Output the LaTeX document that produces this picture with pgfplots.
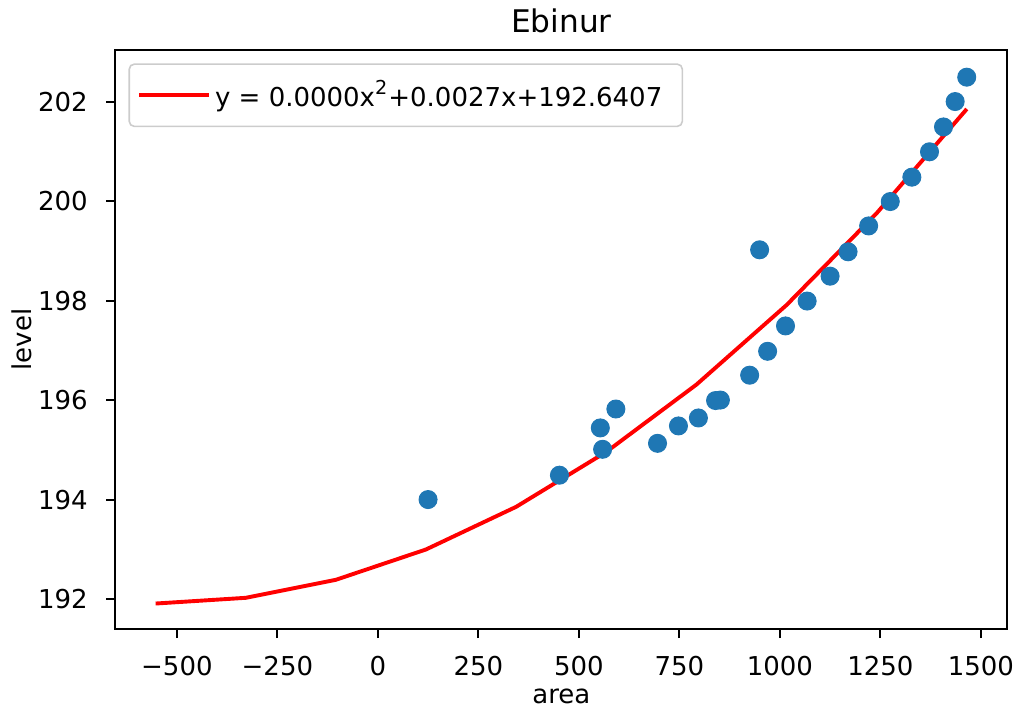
\documentclass[border=0pt]{standalone}
\usepackage{fontspec}
\setmainfont{DejaVu Sans}
\usepackage{pgfplots}
\usepackage{pgfplotstable}
\pgfplotsset{compat=1.18}
\definecolor{mplblue}{HTML}{1F77B4}
\pgfplotstableread{
x y
124.8 194.00
451.6 194.49
553.3 195.44
559.0 195.01
592.0 195.82
695.6 195.13
747.7 195.48
797.3 195.64
840.0 195.99
852.0 196.00
924.8 196.50
949.6 199.02
969.5 196.98
1014.0 197.49
1067.8 197.99
1124.9 198.49
1169.6 198.98
1220.8 199.50
1274.6 199.99
1328.3 200.48
1372.2 200.99
1407.0 201.49
1436.0 202.00
1464.8 202.49
}\points
\pgfplotstableread{
x y
-553.0 191.910
-328.8 192.025
-104.6 192.387
119.7 192.997
343.9 193.854
568.1 194.958
792.3 196.310
1016.6 197.910
1240.8 199.756
1465.0 201.850
}\fit
\begin{document}
\fontsize{13pt}{15.6pt}\selectfont
\begin{tikzpicture}
\path[use as bounding box] (-57.7pt,-42.55pt) rectangle (452.3pt,314.45pt);
\begin{axis}[
  at={(0pt,0pt)}, anchor=south west,
  scale only axis, width=446pt, height=289.3pt,
  xmin=-653, xmax=1566, ymin=191.40, ymax=203.03,
  axis line style={line width=1.04pt},
  tick align=outside, major tick length=4.55pt,
  every tick/.style={black, line width=1.04pt},
  xtick pos=bottom, ytick pos=left,
  xtick={-500,-250,0,250,500,750,1000,1250,1500},
  xticklabels={−500,−250,0,250,500,750,1000,1250,1500},
  ytick={192,194,196,198,200,202},
  yticklabels={192,194,196,198,200,202},
  xticklabel style={inner sep=0pt, anchor=north, yshift=-9.1pt},
  yticklabel style={inner sep=0pt, anchor=east, xshift=-9.1pt},
  tick label style={font=\fontsize{13pt}{15.6pt}\selectfont},
  /pgf/number format/assume math mode=true,
  title={Ebinur},
  title style={at={(axis description cs:0.5,1)}, anchor=base, yshift=3pt, inner sep=0pt, font=\fontsize{15.6pt}{18pt}\selectfont},
  xlabel={area},
  xlabel style={at={(axis description cs:0.5,-0.129)}, anchor=base, inner sep=0pt, font=\fontsize{13pt}{15.6pt}\selectfont},
  ylabel={level},
  ylabel style={at={(axis description cs:-0.1047,0.5)}, anchor=center, inner sep=0pt, font=\fontsize{13pt}{15.6pt}\selectfont},
  legend style={at={(axis description cs:0,1)}, anchor=north west, xshift=6.5pt, yshift=-6.5pt,
    draw=black!20, line width=0.8pt, rounded corners=2.6pt, fill=white,
    inner xsep=4pt, inner ysep=6.2pt,
    font=\fontsize{13pt}{15.6pt}\selectfont},
  legend cell align=left,
  legend image code/.code={\draw[#1] (0pt,0pt) -- (29pt,0pt); \path (29pt,0pt) -- (35pt,0pt);},
]
\addplot[only marks, mark=*, mark size=4.5pt, mark options={draw=mplblue, fill=mplblue, line width=0.5pt}, forget plot] table[x=x, y=y] {\points};
\addplot[red, line width=1.95pt, no marks] table[x=x, y=y] {\fit};
\addlegendentry{y = 0.0000x\raisebox{0.8ex}{\fontsize{9.6pt}{10pt}\selectfont 2}\kern0.5pt+0.0027x+192.6407\hspace*{4pt}}
\end{axis}
\end{tikzpicture}
\end{document}
